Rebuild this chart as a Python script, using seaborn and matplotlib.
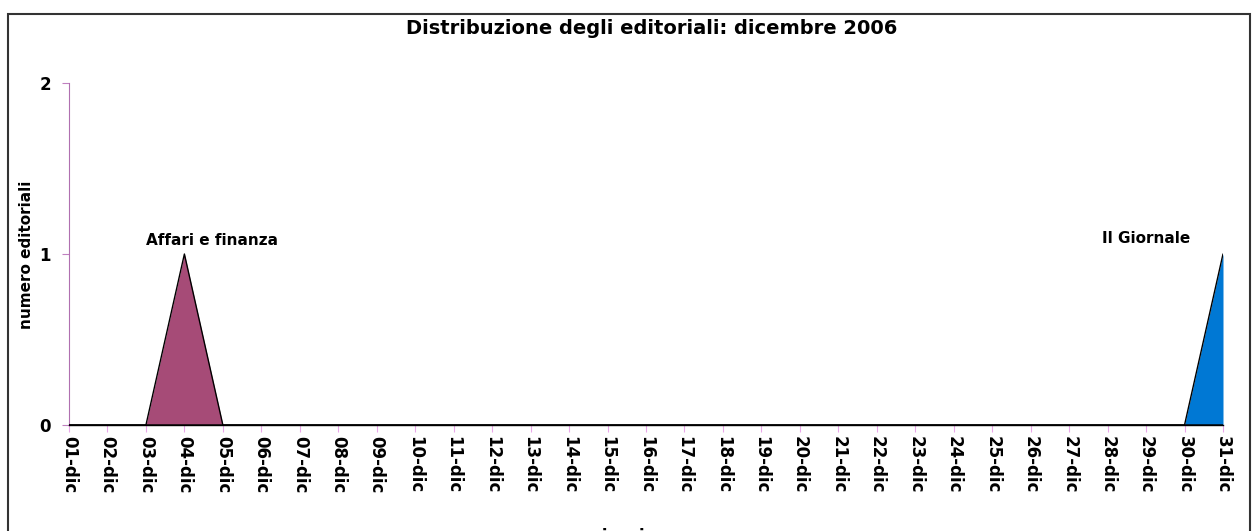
import matplotlib
matplotlib.use("Agg")
import matplotlib.pyplot as plt
import seaborn as sns
import pandas as pd
import numpy as np
from matplotlib.patches import Rectangle

# ---- data ----
days = [f"{d:02d}-dic" for d in range(1, 32)]
affari = [0, 0, 0, 1, 0] + [0] * 26
giornale = [0] * 30 + [1]
series_names = ["Affari e finanza", "Il Giornale"]
title = "Distribuzione degli editoriali: dicembre 2006"
ylabel = "numero editoriali"
xlabel = "giorni"

sns.set_theme(style="white")
plt.rcParams['font.family'] = ['DejaVu Sans']
plt.rcParams['text.color'] = 'black'
plt.rcParams['axes.labelcolor'] = 'black'
plt.rcParams['xtick.color'] = 'black'
plt.rcParams['ytick.color'] = 'black'

W, H = 1256, 531
fig = plt.figure(figsize=(W / 100, H / 100), dpi=100)
fig.patch.set_facecolor("white")

# figure border
fig.patches.append(Rectangle((8 / W, -0.05), (1250 - 8) / W, (H - 14) / H + 0.05,
                             transform=fig.transFigure, fill=False,
                             edgecolor="#333333", linewidth=1.5))

ax = fig.add_axes([69 / W, 1 - 425 / H, (1223 - 69) / W, (425 - 83) / H])
ax.set_facecolor("none")

df = pd.DataFrame({"idx": np.arange(len(days)), "day": days,
                   "Affari e finanza": affari, "Il Giornale": giornale})

colors = {"Affari e finanza": "#A64B77", "Il Giornale": "#0078D4"}
for name in series_names:
    ax.fill_between(df["idx"], 0, df[name], color=colors[name], linewidth=0, zorder=2)
    sns.lineplot(data=df, x="idx", y=name, ax=ax, color="black", linewidth=1.0,
                 zorder=3, legend=False)

ax.set_xlim(0, len(days) - 1)
ax.set_ylim(0, 2)
ax.set_xticks(df["idx"])
ax.set_xticklabels(days, rotation=270, fontsize=12, fontweight="bold")
ax.set_yticks([0, 1, 2])
ax.set_yticklabels(["0", "1", "2"], fontsize=12, fontweight="bold")
ax.tick_params(axis="x", which="both", bottom=True, length=5, width=0.8,
               color="#E9A6E9", labelcolor="black", pad=3)
ax.tick_params(axis="y", which="both", left=True, length=5, width=0.8,
               color="#C080C0", labelcolor="black", pad=8)

for s in ["top", "right"]:
    ax.spines[s].set_visible(False)
ax.spines["left"].set_color("#B070B0")
ax.spines["left"].set_linewidth(0.8)
ax.spines["bottom"].set_color("black")
ax.spines["bottom"].set_linewidth(1.0)

ax.set_xlabel("")
ax.set_ylabel("")
fig.text(27 / W, 1 - 255 / H, ylabel, rotation=90, ha="center", va="center",
         fontsize=11, fontweight="bold", color="black")

fig.text(0.5 * (400 + 903) / W, 1 - 29 / H, title, ha="center", va="center",
         fontsize=14, fontweight="bold", color="black")

ax.text(3.72, 1.08, series_names[0], ha="center", va="center",
        fontsize=11, fontweight="bold", color="black")
ax.text(28.0, 1.09, series_names[1], ha="center", va="center",
        fontsize=11, fontweight="bold", color="black")

fig.text(618 / W, -0.028, xlabel, ha="center", va="bottom", fontsize=12,
         fontweight="bold", color="black")

fig.savefig("out.png", dpi=100)
